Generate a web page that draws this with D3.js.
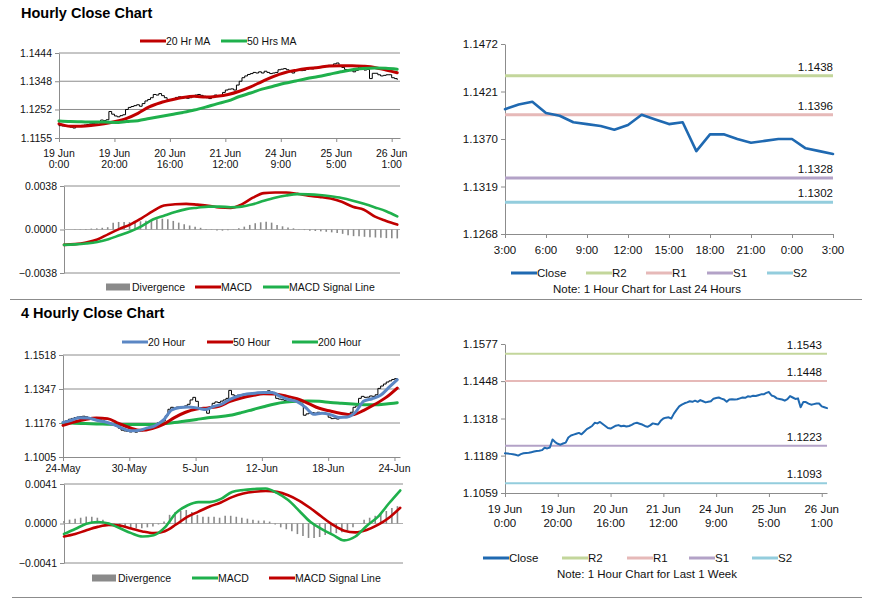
<!DOCTYPE html>
<html>
<head>
<meta charset="utf-8">
<script src="https://cdn.jsdelivr.net/npm/d3@7"></script>
<style>
  body { margin: 0; background: #fff; }
  svg { font-family: Arial, "Liberation Sans", sans-serif; }
</style>
</head>
<body>
<svg id="chart" width="873" height="601"></svg>
<script>
//** DATA **//

// 1 hour closes, 19 Jun 0:00 .. 26 Jun 3:00
var hourClose = [
  1.1197,1.1196,1.1195,1.1194,1.1192,1.1189,1.1194,1.1197,1.1198,1.1199,
  1.1201,1.1203,1.1205,1.1206,1.1208,1.1216,1.1214,1.1217,1.1245,1.1236,
  1.1230,1.1227,1.1231,1.1234,1.1252,1.1259,1.1262,1.1265,1.1268,1.1263,
  1.1272,1.1281,1.1286,1.1292,1.1303,1.1301,1.1306,1.1299,1.1292,1.1285,
  1.1283,1.1288,1.1293,1.1295,1.1291,1.1293,1.1290,1.1292,1.1296,1.1301,
  1.1303,1.1300,1.1297,1.1292,1.1289,1.1294,1.1301,1.1299,1.1297,1.1310,
  1.1318,1.1321,1.1322,1.1318,1.1335,1.1348,1.1360,1.1366,1.1371,1.1374,
  1.1378,1.1376,1.1380,1.1376,1.1382,1.1378,1.1374,1.1376,1.1378,1.1387,
  1.1389,1.1391,1.1387,1.1384,1.1376,1.1384,1.1385,1.1384,1.1385,1.1388,
  1.1391,1.1390,1.1395,1.1394,1.1397,1.1396,1.1399,1.1402,
  1.1402,1.1407,1.1410,1.1398,1.1395,1.1388,1.1386,1.1384,1.1380,1.1385,
  1.1396,1.1391,1.1386,1.1388,1.1357,1.1375,1.1375,1.1370,1.1366,1.1368,
  1.1370,1.1370,1.1360,1.1357,1.1354
];
// moving averages / MACD read at 31 evenly spaced points over the same hours
var hourMa20 = [1.1203,1.1195,1.1195,1.1198,1.1203,1.1211,1.1222,1.1239,1.1261,1.1275,
  1.1285,1.1293,1.1297,1.1294,1.1297,1.1303,1.1314,1.1329,1.1347,1.1364,
  1.1377,1.1385,1.1391,1.1395,1.1400,1.1401,1.1401,1.1399,1.1395,1.1386,1.1377];
var hourMa50 = [1.1213,1.1211,1.1210,1.1209,1.1209,1.1208,1.1211,1.1214,1.1221,1.1228,
  1.1235,1.1242,1.1250,1.1260,1.1271,1.1281,1.1296,1.1308,1.1321,1.1331,
  1.1341,1.1349,1.1357,1.1364,1.1372,1.1380,1.1387,1.1391,1.1393,1.1392,1.1389];
var hourMacd = [-0.00134,-0.00128,-0.00113,-0.00088,-0.00040,0.00005,0.00045,0.00100,0.00160,0.00210,
  0.00220,0.00224,0.00217,0.00208,0.00192,0.00188,0.00220,0.00278,0.00318,0.00323,
  0.00323,0.00312,0.00295,0.00284,0.00270,0.00242,0.00198,0.00172,0.00112,0.00075,0.00043];
var hourSignal = [-0.00134,-0.00130,-0.00122,-0.00109,-0.00085,-0.00050,-0.00015,0.00030,0.00087,0.00120,
  0.00152,0.00178,0.00190,0.00200,0.00200,0.00195,0.00200,0.00220,0.00251,0.00278,
  0.00297,0.00309,0.00307,0.00301,0.00290,0.00275,0.00252,0.00224,0.00193,0.00160,0.00114];
// divergence every 2 hours
var hourDiv = [0,0,0.00002,0.00003,0.00005,0.00008,0.0001,0.00015,0.0002,0.0006,
  0.00066,0.00066,0.00064,0.00066,0.00072,0.00077,0.00083,0.0009,0.00094,0.0009,
  0.00075,0.0006,0.00045,0.00035,0.00025,0.00015,0.00005,-0.00003,-0.00008,-0.0001,
  -0.00006,-0.00002,0.0001,0.00025,0.0004,0.00055,0.00063,0.00068,0.0006,0.0004,
  0.00028,0.00018,0.0001,0.00003,-0.00005,-0.0001,-0.00013,-0.00016,-0.0002,-0.00025,
  -0.0003,-0.00038,-0.0005,-0.00058,-0.0006,-0.00064,-0.00068,-0.0007,-0.00072,-0.00075,
  -0.00077,-0.00078];
var hourTickIdx = [0, 20, 40, 60, 80, 100, 120];
var hourTickLabels = [["19 Jun","0:00"],["19 Jun","20:00"],["20 Jun","16:00"],["21 Jun","12:00"],
  ["24 Jun","9:00"],["25 Jun","5:00"],["26 Jun","1:00"]];
var hourPriceTicks = [1.1155, 1.1252, 1.1348, 1.1444];
var hourMacdTicks = [-0.0038, 0, 0.0038];

// last 24 hours chart
var dayTickIdx = [0, 3, 6, 9, 12, 15, 18, 21, 24];
var dayTickLabels = ["3:00","6:00","9:00","12:00","15:00","18:00","21:00","0:00","3:00"];
var dayTicks = [1.1268, 1.1319, 1.1370, 1.1421, 1.1472];
var dayLevels = [1.1438, 1.1396, 1.1328, 1.1302];

// last week chart
var weekTicks = [1.1059, 1.1189, 1.1318, 1.1448, 1.1577];
var weekLevels = [1.1543, 1.1448, 1.1223, 1.1093];
var levelNames = ["R2", "R1", "S1", "S2"];

// 4 hour closes, 24 May .. 24 Jun
var fourClose = [
  1.1180,1.1188,1.1195,1.1199,1.1203,1.1206,1.1208,1.1210,1.1207,1.1203,
  1.1200,1.1199,1.1196,1.1192,1.1188,1.1180,1.1172,1.1168,1.1165,1.1160,
  1.1150,1.1140,1.1136,1.1134,1.1131,1.1135,1.1130,1.1134,1.1137,1.1140,
  1.1146,1.1152,1.1158,1.1165,1.1176,1.1181,1.1186,1.1212,1.1245,1.1255,
  1.1250,1.1256,1.1252,1.1258,1.1262,1.1270,1.1292,1.1305,1.1285,1.1250,
  1.1246,1.1240,1.1225,1.1258,1.1275,1.1282,1.1279,1.1286,1.1292,1.1300,
  1.1340,1.1318,1.1312,1.1316,1.1318,1.1321,1.1324,1.1320,1.1326,1.1323,
  1.1328,1.1325,1.1330,1.1333,1.1338,1.1332,1.1327,1.1300,1.1296,1.1293,
  1.1290,1.1294,1.1290,1.1287,1.1285,1.1280,1.1272,1.1215,1.1222,1.1226,
  1.1228,1.1225,1.1230,1.1227,1.1224,1.1222,1.1205,1.1198,1.1200,1.1196,
  1.1204,1.1206,1.1203,1.1208,1.1230,1.1255,1.1262,1.1300,1.1310,1.1305,
  1.1306,1.1312,1.1310,1.1318,1.1350,1.1362,1.1372,1.1382,1.1388,1.1395,
  1.1399,1.1396
];
var fourMa20 = [1.1179,1.1190,1.1202,1.1201,1.1190,1.1182,1.1169,1.1151,1.1137,1.1138,
  1.1150,1.1162,1.1190,1.1241,1.1254,1.1257,1.1252,1.1244,1.1259,1.1271,
  1.1295,1.1312,1.1322,1.1326,1.1330,1.1330,1.1310,1.1294,1.1283,1.1255,
  1.1220,1.1225,1.1218,1.1204,1.1206,1.1230,1.1286,1.1298,1.1315,1.1355,1.1394];
var fourMa50 = [1.1164,1.1181,1.1194,1.1201,1.1198,1.1174,1.1152,1.1139,1.1148,1.1169,
  1.1203,1.1230,1.1246,1.1252,1.1260,1.1285,1.1302,1.1314,1.1323,1.1322,
  1.1312,1.1298,1.1275,1.1250,1.1236,1.1224,1.1218,1.1240,1.1270,1.1305,1.1352];
var fourMa200 = [1.1176,1.1175,1.1173,1.1171,1.1170,1.1169,1.1168,1.1168,1.1168,1.1172,
  1.1178,1.1186,1.1194,1.1202,1.1207,1.1215,1.1228,1.1243,1.1258,1.1272,
  1.1281,1.1286,1.1287,1.1285,1.1279,1.1275,1.1271,1.1268,1.1268,1.1272,1.1278];
var fourMacd = [-0.00108,-0.00057,-0.00003,0.00016,0.00000,-0.00050,-0.00100,-0.00135,-0.00122,-0.00040,
  0.00110,0.00187,0.00222,0.00222,0.00255,0.00328,0.00348,0.00358,0.00364,0.00318,
  0.00243,0.00130,0.00015,-0.00058,-0.00118,-0.00175,-0.00135,-0.00025,0.00068,0.00210,0.00343];
var fourSignal = [-0.00135,-0.00110,-0.00070,-0.00035,-0.00014,-0.00022,-0.00052,-0.00082,-0.00100,-0.00080,
  -0.00010,0.00068,0.00123,0.00176,0.00218,0.00274,0.00311,0.00329,0.00337,0.00328,
  0.00294,0.00236,0.00158,0.00070,-0.00014,-0.00075,-0.00092,-0.00067,-0.00015,0.00060,0.00163];
var fourDiv = [0.00027,0.0004,0.0005,0.0006,0.00072,0.0007,0.0006,0.0004,0.0001,-0.0001,
  -0.0003,-0.0004,-0.0005,-0.0005,-0.0005,-0.0004,-0.0003,-0.0001,0.0002,0.0009,
  0.0012,0.0013,0.0014,0.0012,0.0009,0.0007,0.0007,0.0007,0.0006,0.0008,
  0.0008,0.0007,0.0006,0.0005,0.0004,0.0003,0.0003,0.0002,-0.0001,-0.0004,
  -0.0006,-0.0008,-0.0011,-0.0013,-0.0015,-0.0015,-0.0014,-0.0012,-0.0011,-0.0010,
  -0.0009,-0.0007,-0.0004,0.0000,0.0004,0.0006,0.0008,0.0010,0.0013,0.0016,0.0018];
var fourTickIdx = [0, 24, 48, 72, 96, 120];
var fourTickLabels = ["24-May","30-May","5-Jun","12-Jun","18-Jun","24-Jun"];
var fourPriceTicks = [1.1005, 1.1176, 1.1347, 1.1518];
var fourMacdTicks = [-0.0041, 0, 0.0041];

//** STYLE **//
var GRID = "#8c8c8c", INK = "#111";
var RED = "#c00000", GREEN = "#1fb04c", BLUE20 = "#5b87c4", CLOSE = "#1f69b1", DIV = "#8a8a8a";
var levelColors = ["#c3d69b", "#e6b9b8", "#b3a2c7", "#93cddd"];

var svg = d3.select("#chart");
var fmt4 = d3.format(".4f");

//** HELPERS **//

/* left value axis, optional gridlines across the plot */
function yAxis(y, ticks, x0, x1, fs, gridTicks) {
  svg.append("g").selectAll("line")
    .data(gridTicks)
    .enter()
    .append("line")
    .attr("x1", x0).attr("x2", x1)
    .attr("y1", function(d) { return y(d); })
    .attr("y2", function(d) { return y(d); })
    .attr("stroke", GRID);

  var ax = svg.append("g")
    .attr("transform", "translate(" + x0 + ",0)")
    .call(d3.axisLeft(y).tickValues(ticks).tickFormat(fmt4).tickSize(4).tickSizeOuter(0).tickPadding(3));
  ax.select(".domain").attr("stroke", GRID);
  ax.selectAll(".tick line").attr("stroke", GRID);
  ax.selectAll("text").attr("font-size", fs).attr("fill", INK).attr("font-family", null);
}

/* bottom category axis with one or two line labels */
function xAxis(x, ticks, labels, yPos, fs, base, gap) {
  var ax = svg.append("g")
    .attr("transform", "translate(0," + yPos + ")")
    .call(d3.axisBottom(x).tickValues(ticks).tickSize(4).tickSizeOuter(0).tickFormat(""));
  ax.select(".domain").attr("stroke", GRID);
  ax.selectAll(".tick line").attr("stroke", GRID);

  var t = svg.append("g").selectAll("text")
    .data(ticks)
    .enter()
    .append("text")
    .attr("text-anchor", "middle")
    .attr("font-size", fs)
    .attr("fill", INK);
  t.each(function(d, i) {
    var lab = [].concat(labels[i]);
    var node = d3.select(this);
    lab.forEach(function(s, j) {
      node.append("tspan").attr("x", x(d)).attr("y", base + j * gap).text(s);
    });
  });
}

/* smooth line through values spread evenly over the series length */
function knotPath(vals, n, x, y) {
  var step = (n - 1) / (vals.length - 1);
  return d3.line()
    .x(function(d, k) { return x(k * step); })
    .y(function(d) { return y(d); })
    .curve(d3.curveMonotoneX)(vals);
}

function drawPath(d, color, w) {
  svg.append("path").attr("d", d).attr("fill", "none")
    .attr("stroke", color).attr("stroke-width", w)
    .attr("stroke-linejoin", "round").attr("stroke-linecap", "round");
}

function legend(items, y, fs) {
  items.forEach(function(it) {
    if (it.box) {
      svg.append("rect").attr("x", it.x).attr("y", y - 3.5).attr("width", 24).attr("height", 7).attr("fill", it.color);
    } else {
      svg.append("line").attr("x1", it.x).attr("x2", it.x + 26).attr("y1", y).attr("y2", y)
        .attr("stroke", it.color).attr("stroke-width", 3);
    }
    svg.append("text").attr("x", it.x + 26).attr("y", y + 4).attr("font-size", fs).attr("fill", INK).text(it.label);
  });
}

/* price panel with black bars and moving averages */
function pricePanel(o) {
  var n = o.close.length;
  var x = d3.scaleLinear().domain([0, n]).range([o.x0, o.x1]);
  var y = d3.scaleLinear().domain([o.ticks[0], o.ticks[o.ticks.length - 1]]).range([o.y0, o.y1]);
  yAxis(y, o.ticks, o.x0, o.x1, 10.5, o.ticks.slice(1));
  xAxis(x, o.xTicks, o.xLabels, o.y0, 10.5, o.labelBase, 11);

  var bars = d3.line()
    .x(function(d, i) { return x(i); })
    .y(function(d) { return y(d); })
    .curve(d3.curveStepAfter);
  drawPath(bars(o.close), "#000", 1);

  o.lines.forEach(function(l) { drawPath(knotPath(l.vals, n, x, y), l.color, 3); });
}

/* MACD panel: divergence bars and two lines */
function macdPanel(o) {
  var x = d3.scaleLinear().domain([0, o.n]).range([o.x0, o.x1]);
  var y = d3.scaleLinear().domain([o.ticks[0], o.ticks[2]]).range([o.y0, o.y1]);
  yAxis(y, o.ticks, o.x0, o.x1, 10.5, [o.ticks[0], o.ticks[2]]);
  svg.append("line").attr("x1", o.x0).attr("x2", o.x1).attr("y1", y(0)).attr("y2", y(0))
    .attr("stroke", "#b0b0b0").attr("stroke-width", 1);

  svg.append("g").selectAll("line")
    .data(o.div)
    .enter()
    .append("line")
    .attr("x1", function(d, k) { return x(k * 2); })
    .attr("x2", function(d, k) { return x(k * 2); })
    .attr("y1", y(0))
    .attr("y2", function(d) { return y(d); })
    .attr("stroke", DIV).attr("stroke-width", 1.6);

  o.lines.forEach(function(l) { drawPath(knotPath(l.vals, o.n, x, y), l.color, 2.6); });
}

/* close line against pivot levels */
function levelPanel(o) {
  var x = d3.scaleLinear().domain([0, o.close.length - 1]).range([o.x0, o.x1]);
  var y = d3.scaleLinear().domain([o.ticks[0], o.ticks[o.ticks.length - 1]]).range([o.y0, o.y1]);
  yAxis(y, o.ticks, o.x0, o.x1, 11.5, []);
  xAxis(x, o.xTicks, o.xLabels, o.y0, 11.5, o.labelBase, 14);

  o.levels.forEach(function(v, i) {
    svg.append("line").attr("x1", o.x0).attr("x2", o.x1).attr("y1", y(v)).attr("y2", y(v))
      .attr("stroke", levelColors[i]).attr("stroke-width", o.levelW);
    svg.append("text").attr("x", o.labelX).attr("y", y(v) - 5).attr("text-anchor", "end")
      .attr("font-size", 11.5).attr("fill", INK).text(fmt4(v));
  });

  var line = d3.line()
    .x(function(d, i) { return x(i); })
    .y(function(d) { return y(d); });
  drawPath(line(o.close), CLOSE, o.closeW);

  var items = [{ label: "Close", color: CLOSE }].concat(levelNames.map(function(nm, i) {
    return { label: nm, color: levelColors[i] };
  }));
  items.forEach(function(it, i) { it.x = o.legendX[i]; });
  legend(items, o.legendY, 11.5);
  svg.append("text").attr("x", o.noteX).attr("y", o.legendY + 20).attr("text-anchor", "middle")
    .attr("font-size", 11.5).attr("fill", INK).text(o.note);
}

//** BUILD **//

svg.append("text").attr("x", 21).attr("y", 18).attr("font-size", 14.5).attr("font-weight", "bold").text("Hourly Close Chart");
svg.append("text").attr("x", 21).attr("y", 318).attr("font-size", 14.5).attr("font-weight", "bold").text("4 Hourly Close Chart");
svg.append("line").attr("x1", 10).attr("x2", 862).attr("y1", 299.5).attr("y2", 299.5).attr("stroke", GRID);
svg.append("line").attr("x1", 12).attr("x2", 862).attr("y1", 597.5).attr("y2", 597.5).attr("stroke", GRID);

// hourly
pricePanel({
  close: hourClose, ticks: hourPriceTicks, x0: 59, x1: 400, y0: 138, y1: 53,
  xTicks: hourTickIdx, xLabels: hourTickLabels, labelBase: 156.5,
  lines: [{ vals: hourMa20, color: RED }, { vals: hourMa50, color: GREEN }]
});
legend([{ x: 140, color: RED, label: "20 Hr MA" }, { x: 221, color: GREEN, label: "50 Hrs MA" }], 41, 10.5);

macdPanel({
  n: hourClose.length, ticks: hourMacdTicks, x0: 64, x1: 400, y0: 273, y1: 186,
  div: hourDiv, lines: [{ vals: hourMacd, color: RED }, { vals: hourSignal, color: GREEN }]
});
legend([{ x: 106, color: DIV, label: "Divergence", box: true },
        { x: 195, color: RED, label: "MACD" },
        { x: 263, color: GREEN, label: "MACD Signal Line" }], 287, 10.5);

levelPanel({
  close: hourClose.slice(-25), ticks: dayTicks, levels: dayLevels,
  x0: 505, x1: 833, y0: 234, y1: 44, xTicks: dayTickIdx, xLabels: dayTickLabels, labelBase: 254,
  labelX: 833, levelW: 3, closeW: 2.6,
  legendX: [511, 586, 646, 707, 767], legendY: 273, noteX: 647, note: "Note: 1 Hour Chart for Last 24 Hours"
});

// 4 hourly
pricePanel({
  close: fourClose, ticks: fourPriceTicks, x0: 63, x1: 400, y0: 457, y1: 355,
  xTicks: fourTickIdx, xLabels: fourTickLabels, labelBase: 472,
  lines: [{ vals: fourMa200, color: GREEN }, { vals: fourMa50, color: RED }, { vals: fourMa20, color: BLUE20 }]
});
legend([{ x: 122, color: BLUE20, label: "20 Hour" }, { x: 207, color: RED, label: "50 Hour" },
        { x: 292, color: GREEN, label: "200 Hour" }], 342, 10.5);

macdPanel({
  n: fourClose.length, ticks: fourMacdTicks, x0: 64, x1: 403, y0: 563, y1: 484,
  div: fourDiv, lines: [{ vals: fourSignal, color: RED }, { vals: fourMacd, color: GREEN }]
});
legend([{ x: 92, color: DIV, label: "Divergence", box: true },
        { x: 192, color: GREEN, label: "MACD" },
        { x: 269, color: RED, label: "MACD Signal Line" }], 578, 10.5);

levelPanel({
  close: hourClose, ticks: weekTicks, levels: weekLevels,
  x0: 505, x1: 827, y0: 493, y1: 344, xTicks: hourTickIdx, xLabels: hourTickLabels, labelBase: 513,
  labelX: 822, levelW: 2, closeW: 2,
  legendX: [483, 562, 627, 689, 752], legendY: 558, noteX: 647, note: "Note: 1 Hour Chart for Last 1 Week"
});
</script>
</body>
</html>
